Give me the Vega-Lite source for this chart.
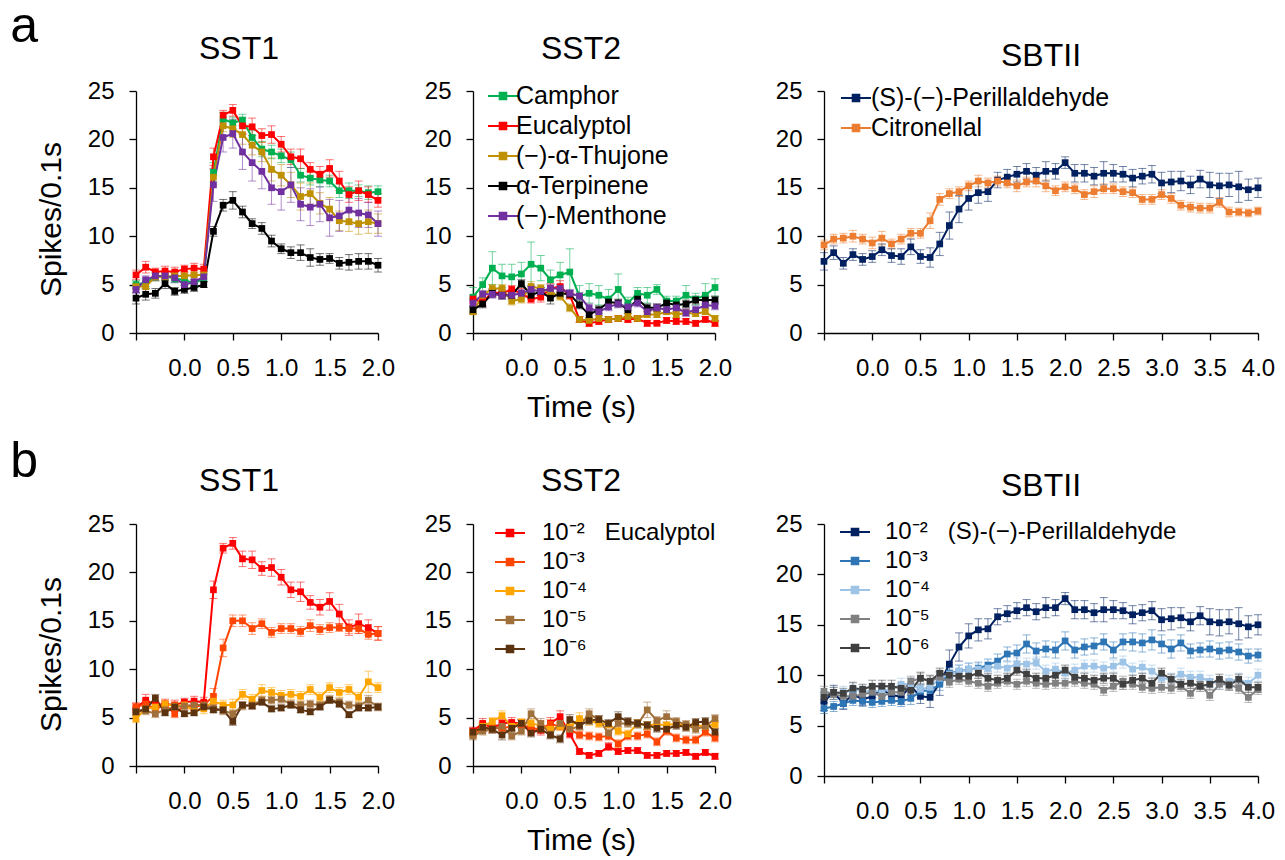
{
"$schema": "https://vega.github.io/schema/vega-lite/v6.json",
"background": "white",
"padding": {"left": 10, "top": 2, "right": 5, "bottom": 5},
"config": {
  "view": {"stroke": null},
  "font": "Liberation Sans",
  "title": {"font": "Liberation Sans", "fontSize": 32, "fontWeight": "normal", "color": "#000"},
  "axis": {"grid": false, "domainColor": "#000", "domainWidth": 1.3, "tickColor": "#000", "tickWidth": 1.3, "tickSize": 7, "labelFont": "Liberation Sans", "labelFontSize": 24, "labelColor": "#000", "labelFlush": false, "labelOverlap": false, "titleFont": "Liberation Sans", "titleFontSize": 30, "titleFontWeight": "normal", "titleColor": "#000"},
  "axisX": {"labelPadding": 16, "titlePadding": 12},
  "axisY": {"labelPadding": 15, "titlePadding": 21},
  "legend": {"labelFont": "Liberation Sans", "labelFontSize": 25, "labelColor": "#000", "symbolSize": 900, "symbolStrokeWidth": 2, "symbolOpacity": 1, "rowPadding": 1, "padding": 0, "labelLimit": 500}
},
"datasets": {
"a1": [
{"s":"Camphor","t":-0.5,"y":5.0,"e":0.4},{"s":"Camphor","t":-0.4,"y":5.2,"e":0.4},{"s":"Camphor","t":-0.3,"y":5.8,"e":0.4},{"s":"Camphor","t":-0.2,"y":5.9,"e":0.5},{"s":"Camphor","t":-0.1,"y":5.6,"e":0.4},{"s":"Camphor","t":0,"y":5.5,"e":0.5},{"s":"Camphor","t":0.1,"y":5.1,"e":0.4},{"s":"Camphor","t":0.2,"y":5.7,"e":0.4},{"s":"Camphor","t":0.3,"y":16.6,"e":1.0},{"s":"Camphor","t":0.4,"y":22.1,"e":0.7},{"s":"Camphor","t":0.5,"y":21.7,"e":0.6},{"s":"Camphor","t":0.6,"y":22.0,"e":0.6},{"s":"Camphor","t":0.7,"y":20.2,"e":0.7},{"s":"Camphor","t":0.8,"y":19.0,"e":0.8},{"s":"Camphor","t":0.9,"y":18.7,"e":0.7},{"s":"Camphor","t":1,"y":18.3,"e":0.7},{"s":"Camphor","t":1.1,"y":17.9,"e":0.8},{"s":"Camphor","t":1.2,"y":16.3,"e":0.7},{"s":"Camphor","t":1.3,"y":16.0,"e":0.7},{"s":"Camphor","t":1.4,"y":15.8,"e":0.7},{"s":"Camphor","t":1.5,"y":15.7,"e":0.6},{"s":"Camphor","t":1.6,"y":14.7,"e":0.7},{"s":"Camphor","t":1.7,"y":14.7,"e":0.8},{"s":"Camphor","t":1.8,"y":14.7,"e":0.6},{"s":"Camphor","t":1.9,"y":14.5,"e":0.7},{"s":"Camphor","t":2,"y":14.6,"e":0.6},
{"s":"Eucalyptol","t":-0.5,"y":6.0,"e":0.5},{"s":"Eucalyptol","t":-0.4,"y":6.8,"e":0.6},{"s":"Eucalyptol","t":-0.3,"y":6.3,"e":0.4},{"s":"Eucalyptol","t":-0.2,"y":6.4,"e":0.5},{"s":"Eucalyptol","t":-0.1,"y":6.3,"e":0.5},{"s":"Eucalyptol","t":0,"y":6.6,"e":0.4},{"s":"Eucalyptol","t":0.1,"y":6.7,"e":0.5},{"s":"Eucalyptol","t":0.2,"y":6.6,"e":0.5},{"s":"Eucalyptol","t":0.3,"y":18.2,"e":0.9},{"s":"Eucalyptol","t":0.4,"y":22.5,"e":0.5},{"s":"Eucalyptol","t":0.5,"y":23.0,"e":0.6},{"s":"Eucalyptol","t":0.6,"y":21.4,"e":0.8},{"s":"Eucalyptol","t":0.7,"y":21.3,"e":0.9},{"s":"Eucalyptol","t":0.8,"y":20.4,"e":0.7},{"s":"Eucalyptol","t":0.9,"y":20.5,"e":0.9},{"s":"Eucalyptol","t":1,"y":19.5,"e":0.8},{"s":"Eucalyptol","t":1.1,"y":18.2,"e":0.8},{"s":"Eucalyptol","t":1.2,"y":18.0,"e":1.0},{"s":"Eucalyptol","t":1.3,"y":16.9,"e":0.7},{"s":"Eucalyptol","t":1.4,"y":16.4,"e":0.8},{"s":"Eucalyptol","t":1.5,"y":17.0,"e":0.9},{"s":"Eucalyptol","t":1.6,"y":15.7,"e":1.0},{"s":"Eucalyptol","t":1.7,"y":14.3,"e":0.8},{"s":"Eucalyptol","t":1.8,"y":14.7,"e":1.0},{"s":"Eucalyptol","t":1.9,"y":14.3,"e":0.8},{"s":"Eucalyptol","t":2,"y":13.7,"e":0.7},
{"s":"(−)-α-Thujone","t":-0.5,"y":4.8,"e":0.3},{"s":"(−)-α-Thujone","t":-0.4,"y":4.8,"e":0.3},{"s":"(−)-α-Thujone","t":-0.3,"y":5.8,"e":0.4},{"s":"(−)-α-Thujone","t":-0.2,"y":5.8,"e":0.4},{"s":"(−)-α-Thujone","t":-0.1,"y":5.9,"e":0.4},{"s":"(−)-α-Thujone","t":0,"y":5.9,"e":0.4},{"s":"(−)-α-Thujone","t":0.1,"y":6.0,"e":0.5},{"s":"(−)-α-Thujone","t":0.2,"y":6.0,"e":0.4},{"s":"(−)-α-Thujone","t":0.3,"y":16.1,"e":0.8},{"s":"(−)-α-Thujone","t":0.4,"y":21.4,"e":0.6},{"s":"(−)-α-Thujone","t":0.5,"y":21.1,"e":0.9},{"s":"(−)-α-Thujone","t":0.6,"y":20.5,"e":1.0},{"s":"(−)-α-Thujone","t":0.7,"y":19.4,"e":1.0},{"s":"(−)-α-Thujone","t":0.8,"y":18.7,"e":1.0},{"s":"(−)-α-Thujone","t":0.9,"y":16.9,"e":1.2},{"s":"(−)-α-Thujone","t":1,"y":16.3,"e":1.1},{"s":"(−)-α-Thujone","t":1.1,"y":15.3,"e":1.3},{"s":"(−)-α-Thujone","t":1.2,"y":14.1,"e":1.4},{"s":"(−)-α-Thujone","t":1.3,"y":14.4,"e":1.1},{"s":"(−)-α-Thujone","t":1.4,"y":13.4,"e":1.1},{"s":"(−)-α-Thujone","t":1.5,"y":12.8,"e":1.2},{"s":"(−)-α-Thujone","t":1.6,"y":11.6,"e":1.0},{"s":"(−)-α-Thujone","t":1.7,"y":11.5,"e":1.0},{"s":"(−)-α-Thujone","t":1.8,"y":11.3,"e":1.1},{"s":"(−)-α-Thujone","t":1.9,"y":11.5,"e":1.2},{"s":"(−)-α-Thujone","t":2,"y":11.3,"e":1.0},
{"s":"α-Terpinene","t":-0.5,"y":3.6,"e":0.6},{"s":"α-Terpinene","t":-0.4,"y":4.0,"e":0.6},{"s":"α-Terpinene","t":-0.3,"y":4.1,"e":0.5},{"s":"α-Terpinene","t":-0.2,"y":5.1,"e":0.5},{"s":"α-Terpinene","t":-0.1,"y":4.3,"e":0.4},{"s":"α-Terpinene","t":0,"y":4.5,"e":0.4},{"s":"α-Terpinene","t":0.1,"y":4.7,"e":0.4},{"s":"α-Terpinene","t":0.2,"y":5.0,"e":0.3},{"s":"α-Terpinene","t":0.3,"y":10.5,"e":0.5},{"s":"α-Terpinene","t":0.4,"y":13.2,"e":0.6},{"s":"α-Terpinene","t":0.5,"y":13.7,"e":0.9},{"s":"α-Terpinene","t":0.6,"y":12.5,"e":0.6},{"s":"α-Terpinene","t":0.7,"y":11.3,"e":0.5},{"s":"α-Terpinene","t":0.8,"y":10.8,"e":0.6},{"s":"α-Terpinene","t":0.9,"y":9.5,"e":0.6},{"s":"α-Terpinene","t":1,"y":8.7,"e":0.5},{"s":"α-Terpinene","t":1.1,"y":8.3,"e":0.6},{"s":"α-Terpinene","t":1.2,"y":8.3,"e":0.8},{"s":"α-Terpinene","t":1.3,"y":7.8,"e":0.9},{"s":"α-Terpinene","t":1.4,"y":7.6,"e":0.6},{"s":"α-Terpinene","t":1.5,"y":7.7,"e":0.5},{"s":"α-Terpinene","t":1.6,"y":7.2,"e":0.6},{"s":"α-Terpinene","t":1.7,"y":7.3,"e":0.8},{"s":"α-Terpinene","t":1.8,"y":7.4,"e":0.8},{"s":"α-Terpinene","t":1.9,"y":7.4,"e":0.8},{"s":"α-Terpinene","t":2,"y":7.0,"e":0.7},
{"s":"(−)-Menthone","t":-0.5,"y":4.5,"e":0.4},{"s":"(−)-Menthone","t":-0.4,"y":5.5,"e":0.4},{"s":"(−)-Menthone","t":-0.3,"y":5.9,"e":0.5},{"s":"(−)-Menthone","t":-0.2,"y":5.9,"e":0.4},{"s":"(−)-Menthone","t":-0.1,"y":5.7,"e":0.5},{"s":"(−)-Menthone","t":0,"y":5.0,"e":0.5},{"s":"(−)-Menthone","t":0.1,"y":5.3,"e":0.5},{"s":"(−)-Menthone","t":0.2,"y":5.8,"e":0.5},{"s":"(−)-Menthone","t":0.3,"y":15.3,"e":1.7},{"s":"(−)-Menthone","t":0.4,"y":20.2,"e":1.5},{"s":"(−)-Menthone","t":0.5,"y":20.6,"e":1.5},{"s":"(−)-Menthone","t":0.6,"y":18.7,"e":1.8},{"s":"(−)-Menthone","t":0.7,"y":17.6,"e":1.9},{"s":"(−)-Menthone","t":0.8,"y":16.7,"e":1.8},{"s":"(−)-Menthone","t":0.9,"y":15.0,"e":1.7},{"s":"(−)-Menthone","t":1,"y":14.6,"e":1.9},{"s":"(−)-Menthone","t":1.1,"y":15.3,"e":1.8},{"s":"(−)-Menthone","t":1.2,"y":13.3,"e":1.7},{"s":"(−)-Menthone","t":1.3,"y":13.0,"e":1.9},{"s":"(−)-Menthone","t":1.4,"y":13.3,"e":1.8},{"s":"(−)-Menthone","t":1.5,"y":11.9,"e":1.9},{"s":"(−)-Menthone","t":1.6,"y":12.1,"e":1.6},{"s":"(−)-Menthone","t":1.7,"y":12.7,"e":1.5},{"s":"(−)-Menthone","t":1.8,"y":12.4,"e":1.5},{"s":"(−)-Menthone","t":1.9,"y":12.2,"e":1.3},{"s":"(−)-Menthone","t":2,"y":11.3,"e":1.3}
],
"a2": [
{"s":"Camphor","t":-0.5,"y":3.7,"e":1.0},{"s":"Camphor","t":-0.4,"y":5.0,"e":0.7},{"s":"Camphor","t":-0.3,"y":6.7,"e":1.7},{"s":"Camphor","t":-0.2,"y":5.9,"e":1.2},{"s":"Camphor","t":-0.1,"y":5.8,"e":1.3},{"s":"Camphor","t":0,"y":6.1,"e":1.2},{"s":"Camphor","t":0.1,"y":7.1,"e":2.3},{"s":"Camphor","t":0.2,"y":6.7,"e":1.3},{"s":"Camphor","t":0.3,"y":5.5,"e":1.0},{"s":"Camphor","t":0.4,"y":6.0,"e":1.3},{"s":"Camphor","t":0.5,"y":6.3,"e":2.4},{"s":"Camphor","t":0.6,"y":3.8,"e":1.1},{"s":"Camphor","t":0.7,"y":4.1,"e":1.0},{"s":"Camphor","t":0.8,"y":3.9,"e":1.0},{"s":"Camphor","t":0.9,"y":3.5,"e":1.0},{"s":"Camphor","t":1,"y":4.5,"e":1.6},{"s":"Camphor","t":1.1,"y":3.1,"e":0.6},{"s":"Camphor","t":1.2,"y":4.1,"e":0.6},{"s":"Camphor","t":1.3,"y":3.9,"e":0.8},{"s":"Camphor","t":1.4,"y":4.5,"e":0.5},{"s":"Camphor","t":1.5,"y":3.3,"e":0.5},{"s":"Camphor","t":1.6,"y":3.3,"e":0.5},{"s":"Camphor","t":1.7,"y":3.9,"e":1.0},{"s":"Camphor","t":1.8,"y":3.5,"e":0.6},{"s":"Camphor","t":1.9,"y":3.9,"e":1.2},{"s":"Camphor","t":2,"y":4.7,"e":0.9},
{"s":"Eucalyptol","t":-0.5,"y":3.5,"e":0.4},{"s":"Eucalyptol","t":-0.4,"y":3.2,"e":0.4},{"s":"Eucalyptol","t":-0.3,"y":4.2,"e":0.4},{"s":"Eucalyptol","t":-0.2,"y":4.1,"e":0.4},{"s":"Eucalyptol","t":-0.1,"y":4.5,"e":0.4},{"s":"Eucalyptol","t":0,"y":4.1,"e":0.5},{"s":"Eucalyptol","t":0.1,"y":3.5,"e":0.4},{"s":"Eucalyptol","t":0.2,"y":3.7,"e":0.5},{"s":"Eucalyptol","t":0.3,"y":4.6,"e":0.5},{"s":"Eucalyptol","t":0.4,"y":4.8,"e":0.6},{"s":"Eucalyptol","t":0.5,"y":3.9,"e":0.4},{"s":"Eucalyptol","t":0.6,"y":1.4,"e":0.3},{"s":"Eucalyptol","t":0.7,"y":1.0,"e":0.3},{"s":"Eucalyptol","t":0.8,"y":1.2,"e":0.3},{"s":"Eucalyptol","t":0.9,"y":1.4,"e":0.3},{"s":"Eucalyptol","t":1,"y":1.5,"e":0.3},{"s":"Eucalyptol","t":1.1,"y":1.4,"e":0.3},{"s":"Eucalyptol","t":1.2,"y":1.5,"e":0.3},{"s":"Eucalyptol","t":1.3,"y":1.0,"e":0.3},{"s":"Eucalyptol","t":1.4,"y":1.0,"e":0.2},{"s":"Eucalyptol","t":1.5,"y":1.3,"e":0.3},{"s":"Eucalyptol","t":1.6,"y":1.2,"e":0.3},{"s":"Eucalyptol","t":1.7,"y":1.2,"e":0.3},{"s":"Eucalyptol","t":1.8,"y":1.0,"e":0.3},{"s":"Eucalyptol","t":1.9,"y":1.4,"e":0.3},{"s":"Eucalyptol","t":2,"y":1.0,"e":0.3},
{"s":"(−)-α-Thujone","t":-0.5,"y":2.2,"e":0.3},{"s":"(−)-α-Thujone","t":-0.4,"y":3.9,"e":0.4},{"s":"(−)-α-Thujone","t":-0.3,"y":4.6,"e":0.4},{"s":"(−)-α-Thujone","t":-0.2,"y":4.6,"e":0.4},{"s":"(−)-α-Thujone","t":-0.1,"y":3.3,"e":0.4},{"s":"(−)-α-Thujone","t":0,"y":3.5,"e":0.4},{"s":"(−)-α-Thujone","t":0.1,"y":4.8,"e":0.5},{"s":"(−)-α-Thujone","t":0.2,"y":4.6,"e":0.4},{"s":"(−)-α-Thujone","t":0.3,"y":4.2,"e":0.4},{"s":"(−)-α-Thujone","t":0.4,"y":3.8,"e":0.4},{"s":"(−)-α-Thujone","t":0.5,"y":2.6,"e":0.4},{"s":"(−)-α-Thujone","t":0.6,"y":1.4,"e":0.3},{"s":"(−)-α-Thujone","t":0.7,"y":1.3,"e":0.3},{"s":"(−)-α-Thujone","t":0.8,"y":1.5,"e":0.3},{"s":"(−)-α-Thujone","t":0.9,"y":1.4,"e":0.3},{"s":"(−)-α-Thujone","t":1,"y":1.5,"e":0.3},{"s":"(−)-α-Thujone","t":1.1,"y":1.7,"e":0.3},{"s":"(−)-α-Thujone","t":1.2,"y":1.5,"e":0.3},{"s":"(−)-α-Thujone","t":1.3,"y":1.9,"e":0.3},{"s":"(−)-α-Thujone","t":1.4,"y":1.9,"e":0.3},{"s":"(−)-α-Thujone","t":1.5,"y":2.2,"e":0.3},{"s":"(−)-α-Thujone","t":1.6,"y":1.9,"e":0.3},{"s":"(−)-α-Thujone","t":1.7,"y":2.1,"e":0.3},{"s":"(−)-α-Thujone","t":1.8,"y":2.0,"e":0.3},{"s":"(−)-α-Thujone","t":1.9,"y":2.2,"e":0.3},{"s":"(−)-α-Thujone","t":2,"y":1.5,"e":0.3},
{"s":"α-Terpinene","t":-0.5,"y":2.4,"e":0.4},{"s":"α-Terpinene","t":-0.4,"y":3.0,"e":0.4},{"s":"α-Terpinene","t":-0.3,"y":4.1,"e":0.4},{"s":"α-Terpinene","t":-0.2,"y":3.9,"e":0.4},{"s":"α-Terpinene","t":-0.1,"y":3.9,"e":0.4},{"s":"α-Terpinene","t":0,"y":5.1,"e":0.4},{"s":"α-Terpinene","t":0.1,"y":3.9,"e":0.4},{"s":"α-Terpinene","t":0.2,"y":4.3,"e":0.4},{"s":"α-Terpinene","t":0.3,"y":3.6,"e":0.6},{"s":"α-Terpinene","t":0.4,"y":4.1,"e":0.4},{"s":"α-Terpinene","t":0.5,"y":4.0,"e":0.4},{"s":"α-Terpinene","t":0.6,"y":2.9,"e":0.4},{"s":"α-Terpinene","t":0.7,"y":1.9,"e":0.4},{"s":"α-Terpinene","t":0.8,"y":2.4,"e":0.4},{"s":"α-Terpinene","t":0.9,"y":3.2,"e":0.4},{"s":"α-Terpinene","t":1,"y":3.1,"e":0.4},{"s":"α-Terpinene","t":1.1,"y":2.4,"e":0.4},{"s":"α-Terpinene","t":1.2,"y":3.5,"e":0.4},{"s":"α-Terpinene","t":1.3,"y":2.6,"e":0.4},{"s":"α-Terpinene","t":1.4,"y":2.6,"e":0.4},{"s":"α-Terpinene","t":1.5,"y":3.1,"e":0.4},{"s":"α-Terpinene","t":1.6,"y":2.9,"e":0.4},{"s":"α-Terpinene","t":1.7,"y":3.0,"e":0.4},{"s":"α-Terpinene","t":1.8,"y":3.4,"e":0.4},{"s":"α-Terpinene","t":1.9,"y":3.4,"e":0.4},{"s":"α-Terpinene","t":2,"y":3.4,"e":0.4},
{"s":"(−)-Menthone","t":-0.5,"y":3.1,"e":0.4},{"s":"(−)-Menthone","t":-0.4,"y":4.0,"e":0.4},{"s":"(−)-Menthone","t":-0.3,"y":4.0,"e":0.4},{"s":"(−)-Menthone","t":-0.2,"y":3.9,"e":0.4},{"s":"(−)-Menthone","t":-0.1,"y":3.9,"e":0.4},{"s":"(−)-Menthone","t":0,"y":4.1,"e":0.4},{"s":"(−)-Menthone","t":0.1,"y":4.5,"e":0.4},{"s":"(−)-Menthone","t":0.2,"y":4.3,"e":0.4},{"s":"(−)-Menthone","t":0.3,"y":4.6,"e":0.4},{"s":"(−)-Menthone","t":0.4,"y":4.6,"e":0.4},{"s":"(−)-Menthone","t":0.5,"y":4.1,"e":0.4},{"s":"(−)-Menthone","t":0.6,"y":3.8,"e":0.4},{"s":"(−)-Menthone","t":0.7,"y":2.6,"e":0.4},{"s":"(−)-Menthone","t":0.8,"y":2.2,"e":0.4},{"s":"(−)-Menthone","t":0.9,"y":2.7,"e":0.4},{"s":"(−)-Menthone","t":1,"y":3.0,"e":0.4},{"s":"(−)-Menthone","t":1.1,"y":2.7,"e":0.4},{"s":"(−)-Menthone","t":1.2,"y":3.1,"e":0.4},{"s":"(−)-Menthone","t":1.3,"y":2.2,"e":0.4},{"s":"(−)-Menthone","t":1.4,"y":2.6,"e":0.4},{"s":"(−)-Menthone","t":1.5,"y":2.4,"e":0.4},{"s":"(−)-Menthone","t":1.6,"y":2.6,"e":0.4},{"s":"(−)-Menthone","t":1.7,"y":2.1,"e":0.4},{"s":"(−)-Menthone","t":1.8,"y":2.4,"e":0.4},{"s":"(−)-Menthone","t":1.9,"y":2.9,"e":0.4},{"s":"(−)-Menthone","t":2,"y":2.8,"e":0.4}
],
"a3": [
{"s":"(S)-(−)-Perillaldehyde","t":-0.5,"y":7.4,"e":0.9},{"s":"(S)-(−)-Perillaldehyde","t":-0.4,"y":8.3,"e":0.7},{"s":"(S)-(−)-Perillaldehyde","t":-0.3,"y":7.2,"e":0.6},{"s":"(S)-(−)-Perillaldehyde","t":-0.2,"y":8.1,"e":0.6},{"s":"(S)-(−)-Perillaldehyde","t":-0.1,"y":7.6,"e":0.6},{"s":"(S)-(−)-Perillaldehyde","t":0,"y":7.9,"e":0.6},{"s":"(S)-(−)-Perillaldehyde","t":0.1,"y":8.6,"e":0.6},{"s":"(S)-(−)-Perillaldehyde","t":0.2,"y":8.0,"e":0.7},{"s":"(S)-(−)-Perillaldehyde","t":0.3,"y":7.9,"e":0.8},{"s":"(S)-(−)-Perillaldehyde","t":0.4,"y":8.9,"e":0.8},{"s":"(S)-(−)-Perillaldehyde","t":0.5,"y":7.9,"e":0.7},{"s":"(S)-(−)-Perillaldehyde","t":0.6,"y":7.8,"e":1.0},{"s":"(S)-(−)-Perillaldehyde","t":0.7,"y":9.2,"e":1.2},{"s":"(S)-(−)-Perillaldehyde","t":0.8,"y":11.1,"e":1.4},{"s":"(S)-(−)-Perillaldehyde","t":0.9,"y":12.8,"e":1.4},{"s":"(S)-(−)-Perillaldehyde","t":1,"y":13.9,"e":1.2},{"s":"(S)-(−)-Perillaldehyde","t":1.1,"y":14.5,"e":1.1},{"s":"(S)-(−)-Perillaldehyde","t":1.2,"y":14.6,"e":1.0},{"s":"(S)-(−)-Perillaldehyde","t":1.3,"y":15.8,"e":0.8},{"s":"(S)-(−)-Perillaldehyde","t":1.4,"y":16.1,"e":0.8},{"s":"(S)-(−)-Perillaldehyde","t":1.5,"y":16.4,"e":0.8},{"s":"(S)-(−)-Perillaldehyde","t":1.6,"y":16.7,"e":0.8},{"s":"(S)-(−)-Perillaldehyde","t":1.7,"y":16.3,"e":0.8},{"s":"(S)-(−)-Perillaldehyde","t":1.8,"y":16.7,"e":1.0},{"s":"(S)-(−)-Perillaldehyde","t":1.9,"y":16.7,"e":0.8},{"s":"(S)-(−)-Perillaldehyde","t":2,"y":17.6,"e":0.6},{"s":"(S)-(−)-Perillaldehyde","t":2.1,"y":16.5,"e":0.9},{"s":"(S)-(−)-Perillaldehyde","t":2.2,"y":16.5,"e":0.9},{"s":"(S)-(−)-Perillaldehyde","t":2.3,"y":16.2,"e":0.9},{"s":"(S)-(−)-Perillaldehyde","t":2.4,"y":16.5,"e":1.2},{"s":"(S)-(−)-Perillaldehyde","t":2.5,"y":16.5,"e":0.9},{"s":"(S)-(−)-Perillaldehyde","t":2.6,"y":16.4,"e":0.8},{"s":"(S)-(−)-Perillaldehyde","t":2.7,"y":16.0,"e":0.9},{"s":"(S)-(−)-Perillaldehyde","t":2.8,"y":16.2,"e":0.8},{"s":"(S)-(−)-Perillaldehyde","t":2.9,"y":16.4,"e":0.9},{"s":"(S)-(−)-Perillaldehyde","t":3,"y":15.5,"e":1.1},{"s":"(S)-(−)-Perillaldehyde","t":3.1,"y":15.6,"e":1.1},{"s":"(S)-(−)-Perillaldehyde","t":3.2,"y":15.7,"e":1.0},{"s":"(S)-(−)-Perillaldehyde","t":3.3,"y":15.3,"e":0.9},{"s":"(S)-(−)-Perillaldehyde","t":3.4,"y":15.9,"e":0.9},{"s":"(S)-(−)-Perillaldehyde","t":3.5,"y":15.3,"e":1.3},{"s":"(S)-(−)-Perillaldehyde","t":3.6,"y":15.2,"e":1.3},{"s":"(S)-(−)-Perillaldehyde","t":3.7,"y":15.3,"e":1.2},{"s":"(S)-(−)-Perillaldehyde","t":3.8,"y":15.1,"e":1.6},{"s":"(S)-(−)-Perillaldehyde","t":3.9,"y":14.8,"e":1.1},{"s":"(S)-(−)-Perillaldehyde","t":4,"y":15.0,"e":1.0},
{"s":"Citronellal","t":-0.5,"y":9.1,"e":0.5},{"s":"Citronellal","t":-0.4,"y":9.7,"e":0.5},{"s":"Citronellal","t":-0.3,"y":9.8,"e":0.5},{"s":"Citronellal","t":-0.2,"y":10.0,"e":0.6},{"s":"Citronellal","t":-0.1,"y":9.7,"e":0.5},{"s":"Citronellal","t":0,"y":9.3,"e":0.6},{"s":"Citronellal","t":0.1,"y":9.8,"e":0.7},{"s":"Citronellal","t":0.2,"y":9.2,"e":0.5},{"s":"Citronellal","t":0.3,"y":9.7,"e":0.5},{"s":"Citronellal","t":0.4,"y":10.3,"e":0.5},{"s":"Citronellal","t":0.5,"y":10.3,"e":0.5},{"s":"Citronellal","t":0.6,"y":11.6,"e":0.8},{"s":"Citronellal","t":0.7,"y":13.8,"e":0.6},{"s":"Citronellal","t":0.8,"y":14.4,"e":0.5},{"s":"Citronellal","t":0.9,"y":14.6,"e":0.5},{"s":"Citronellal","t":1,"y":15.2,"e":0.5},{"s":"Citronellal","t":1.1,"y":15.7,"e":0.6},{"s":"Citronellal","t":1.2,"y":15.5,"e":0.5},{"s":"Citronellal","t":1.3,"y":15.7,"e":0.5},{"s":"Citronellal","t":1.4,"y":15.5,"e":0.5},{"s":"Citronellal","t":1.5,"y":15.2,"e":0.6},{"s":"Citronellal","t":1.6,"y":15.6,"e":0.5},{"s":"Citronellal","t":1.7,"y":15.7,"e":0.6},{"s":"Citronellal","t":1.8,"y":15.2,"e":0.6},{"s":"Citronellal","t":1.9,"y":14.7,"e":0.5},{"s":"Citronellal","t":2,"y":15.1,"e":0.5},{"s":"Citronellal","t":2.1,"y":14.9,"e":0.5},{"s":"Citronellal","t":2.2,"y":14.3,"e":0.5},{"s":"Citronellal","t":2.3,"y":14.6,"e":0.6},{"s":"Citronellal","t":2.4,"y":14.9,"e":0.5},{"s":"Citronellal","t":2.5,"y":14.9,"e":0.5},{"s":"Citronellal","t":2.6,"y":14.6,"e":0.5},{"s":"Citronellal","t":2.7,"y":14.5,"e":0.5},{"s":"Citronellal","t":2.8,"y":13.8,"e":0.5},{"s":"Citronellal","t":2.9,"y":13.8,"e":0.5},{"s":"Citronellal","t":3,"y":14.3,"e":0.5},{"s":"Citronellal","t":3.1,"y":13.9,"e":0.5},{"s":"Citronellal","t":3.2,"y":13.2,"e":0.5},{"s":"Citronellal","t":3.3,"y":13.0,"e":0.5},{"s":"Citronellal","t":3.4,"y":12.9,"e":0.5},{"s":"Citronellal","t":3.5,"y":12.9,"e":0.5},{"s":"Citronellal","t":3.6,"y":13.5,"e":0.5},{"s":"Citronellal","t":3.7,"y":12.5,"e":0.5},{"s":"Citronellal","t":3.8,"y":12.5,"e":0.4},{"s":"Citronellal","t":3.9,"y":12.4,"e":0.4},{"s":"Citronellal","t":4,"y":12.6,"e":0.4}
],
"b1": [
{"s":"10⁻²","t":-0.5,"y":6.0,"e":0.5},{"s":"10⁻²","t":-0.4,"y":6.8,"e":0.6},{"s":"10⁻²","t":-0.3,"y":6.3,"e":0.4},{"s":"10⁻²","t":-0.2,"y":6.4,"e":0.5},{"s":"10⁻²","t":-0.1,"y":6.3,"e":0.5},{"s":"10⁻²","t":0,"y":6.6,"e":0.4},{"s":"10⁻²","t":0.1,"y":6.7,"e":0.5},{"s":"10⁻²","t":0.2,"y":6.6,"e":0.5},{"s":"10⁻²","t":0.3,"y":18.2,"e":0.9},{"s":"10⁻²","t":0.4,"y":22.5,"e":0.5},{"s":"10⁻²","t":0.5,"y":23.0,"e":0.6},{"s":"10⁻²","t":0.6,"y":21.4,"e":0.8},{"s":"10⁻²","t":0.7,"y":21.3,"e":0.9},{"s":"10⁻²","t":0.8,"y":20.4,"e":0.7},{"s":"10⁻²","t":0.9,"y":20.5,"e":0.9},{"s":"10⁻²","t":1,"y":19.5,"e":0.8},{"s":"10⁻²","t":1.1,"y":18.2,"e":0.8},{"s":"10⁻²","t":1.2,"y":18.0,"e":1.0},{"s":"10⁻²","t":1.3,"y":16.9,"e":0.7},{"s":"10⁻²","t":1.4,"y":16.4,"e":0.8},{"s":"10⁻²","t":1.5,"y":17.0,"e":0.9},{"s":"10⁻²","t":1.6,"y":15.7,"e":1.0},{"s":"10⁻²","t":1.7,"y":14.3,"e":0.8},{"s":"10⁻²","t":1.8,"y":14.7,"e":1.0},{"s":"10⁻²","t":1.9,"y":14.3,"e":0.8},{"s":"10⁻²","t":2,"y":13.7,"e":0.7},
{"s":"10⁻³","t":-0.5,"y":6.1,"e":0.4},{"s":"10⁻³","t":-0.4,"y":6.4,"e":0.4},{"s":"10⁻³","t":-0.3,"y":5.9,"e":0.4},{"s":"10⁻³","t":-0.2,"y":6.3,"e":0.4},{"s":"10⁻³","t":-0.1,"y":5.4,"e":0.4},{"s":"10⁻³","t":0,"y":6.3,"e":0.4},{"s":"10⁻³","t":0.1,"y":6.1,"e":0.4},{"s":"10⁻³","t":0.2,"y":6.3,"e":0.4},{"s":"10⁻³","t":0.3,"y":7.2,"e":0.8},{"s":"10⁻³","t":0.4,"y":12.2,"e":0.9},{"s":"10⁻³","t":0.5,"y":15.0,"e":0.6},{"s":"10⁻³","t":0.6,"y":15.0,"e":0.6},{"s":"10⁻³","t":0.7,"y":14.2,"e":0.6},{"s":"10⁻³","t":0.8,"y":14.7,"e":0.5},{"s":"10⁻³","t":0.9,"y":13.8,"e":0.5},{"s":"10⁻³","t":1,"y":14.2,"e":0.5},{"s":"10⁻³","t":1.1,"y":14.2,"e":0.5},{"s":"10⁻³","t":1.2,"y":13.9,"e":0.5},{"s":"10⁻³","t":1.3,"y":14.5,"e":0.6},{"s":"10⁻³","t":1.4,"y":14.1,"e":0.5},{"s":"10⁻³","t":1.5,"y":14.3,"e":0.5},{"s":"10⁻³","t":1.6,"y":14.3,"e":0.4},{"s":"10⁻³","t":1.7,"y":14.2,"e":0.5},{"s":"10⁻³","t":1.8,"y":14.2,"e":0.5},{"s":"10⁻³","t":1.9,"y":13.6,"e":0.5},{"s":"10⁻³","t":2,"y":13.7,"e":0.7},
{"s":"10⁻⁴","t":-0.5,"y":4.9,"e":0.4},{"s":"10⁻⁴","t":-0.4,"y":5.9,"e":0.4},{"s":"10⁻⁴","t":-0.3,"y":6.1,"e":0.4},{"s":"10⁻⁴","t":-0.2,"y":6.4,"e":0.4},{"s":"10⁻⁴","t":-0.1,"y":6.2,"e":0.4},{"s":"10⁻⁴","t":0,"y":6.3,"e":0.4},{"s":"10⁻⁴","t":0.1,"y":5.7,"e":0.4},{"s":"10⁻⁴","t":0.2,"y":5.9,"e":0.5},{"s":"10⁻⁴","t":0.3,"y":6.7,"e":0.6},{"s":"10⁻⁴","t":0.4,"y":6.3,"e":0.5},{"s":"10⁻⁴","t":0.5,"y":6.3,"e":0.6},{"s":"10⁻⁴","t":0.6,"y":7.4,"e":0.5},{"s":"10⁻⁴","t":0.7,"y":6.9,"e":0.5},{"s":"10⁻⁴","t":0.8,"y":7.8,"e":0.6},{"s":"10⁻⁴","t":0.9,"y":7.6,"e":0.5},{"s":"10⁻⁴","t":1,"y":7.3,"e":0.5},{"s":"10⁻⁴","t":1.1,"y":7.4,"e":0.5},{"s":"10⁻⁴","t":1.2,"y":7.2,"e":0.5},{"s":"10⁻⁴","t":1.3,"y":7.9,"e":0.5},{"s":"10⁻⁴","t":1.4,"y":7.1,"e":0.5},{"s":"10⁻⁴","t":1.5,"y":8.1,"e":0.5},{"s":"10⁻⁴","t":1.6,"y":7.6,"e":0.5},{"s":"10⁻⁴","t":1.7,"y":7.9,"e":0.5},{"s":"10⁻⁴","t":1.8,"y":7.1,"e":0.5},{"s":"10⁻⁴","t":1.9,"y":8.7,"e":1.1},{"s":"10⁻⁴","t":2,"y":8.1,"e":0.5},
{"s":"10⁻⁵","t":-0.5,"y":5.6,"e":0.4},{"s":"10⁻⁵","t":-0.4,"y":5.7,"e":0.4},{"s":"10⁻⁵","t":-0.3,"y":5.4,"e":0.4},{"s":"10⁻⁵","t":-0.2,"y":5.8,"e":0.4},{"s":"10⁻⁵","t":-0.1,"y":6.1,"e":0.4},{"s":"10⁻⁵","t":0,"y":6.2,"e":0.4},{"s":"10⁻⁵","t":0.1,"y":6.3,"e":0.4},{"s":"10⁻⁵","t":0.2,"y":6.3,"e":0.4},{"s":"10⁻⁵","t":0.3,"y":6.0,"e":0.4},{"s":"10⁻⁵","t":0.4,"y":5.7,"e":0.4},{"s":"10⁻⁵","t":0.5,"y":5.4,"e":0.4},{"s":"10⁻⁵","t":0.6,"y":6.2,"e":0.4},{"s":"10⁻⁵","t":0.7,"y":6.3,"e":0.4},{"s":"10⁻⁵","t":0.8,"y":6.8,"e":0.4},{"s":"10⁻⁵","t":0.9,"y":6.8,"e":0.4},{"s":"10⁻⁵","t":1,"y":6.9,"e":0.4},{"s":"10⁻⁵","t":1.1,"y":6.4,"e":0.4},{"s":"10⁻⁵","t":1.2,"y":6.3,"e":0.4},{"s":"10⁻⁵","t":1.3,"y":6.4,"e":0.4},{"s":"10⁻⁵","t":1.4,"y":6.3,"e":0.4},{"s":"10⁻⁵","t":1.5,"y":6.9,"e":0.4},{"s":"10⁻⁵","t":1.6,"y":6.6,"e":0.4},{"s":"10⁻⁵","t":1.7,"y":6.3,"e":0.4},{"s":"10⁻⁵","t":1.8,"y":6.2,"e":0.4},{"s":"10⁻⁵","t":1.9,"y":6.8,"e":0.5},{"s":"10⁻⁵","t":2,"y":6.1,"e":0.4},
{"s":"10⁻⁶","t":-0.5,"y":5.6,"e":0.4},{"s":"10⁻⁶","t":-0.4,"y":5.9,"e":0.4},{"s":"10⁻⁶","t":-0.3,"y":7.0,"e":0.4},{"s":"10⁻⁶","t":-0.2,"y":5.5,"e":0.3},{"s":"10⁻⁶","t":-0.1,"y":6.1,"e":0.3},{"s":"10⁻⁶","t":0,"y":5.4,"e":0.3},{"s":"10⁻⁶","t":0.1,"y":5.5,"e":0.3},{"s":"10⁻⁶","t":0.2,"y":6.1,"e":0.3},{"s":"10⁻⁶","t":0.3,"y":5.8,"e":0.3},{"s":"10⁻⁶","t":0.4,"y":5.8,"e":0.3},{"s":"10⁻⁶","t":0.5,"y":4.6,"e":0.4},{"s":"10⁻⁶","t":0.6,"y":6.3,"e":0.3},{"s":"10⁻⁶","t":0.7,"y":6.2,"e":0.3},{"s":"10⁻⁶","t":0.8,"y":6.6,"e":0.3},{"s":"10⁻⁶","t":0.9,"y":5.9,"e":0.3},{"s":"10⁻⁶","t":1,"y":6.0,"e":0.3},{"s":"10⁻⁶","t":1.1,"y":6.3,"e":0.3},{"s":"10⁻⁶","t":1.2,"y":5.8,"e":0.3},{"s":"10⁻⁶","t":1.3,"y":5.6,"e":0.3},{"s":"10⁻⁶","t":1.4,"y":6.1,"e":0.3},{"s":"10⁻⁶","t":1.5,"y":6.8,"e":0.3},{"s":"10⁻⁶","t":1.6,"y":6.4,"e":0.3},{"s":"10⁻⁶","t":1.7,"y":5.3,"e":0.3},{"s":"10⁻⁶","t":1.8,"y":6.0,"e":0.3},{"s":"10⁻⁶","t":1.9,"y":6.0,"e":0.3},{"s":"10⁻⁶","t":2,"y":6.1,"e":0.3}
],
"b2": [
{"s":"10⁻²","t":-0.5,"y":3.6,"e":0.4},{"s":"10⁻²","t":-0.4,"y":4.4,"e":0.5},{"s":"10⁻²","t":-0.3,"y":3.9,"e":0.4},{"s":"10⁻²","t":-0.2,"y":4.4,"e":0.4},{"s":"10⁻²","t":-0.1,"y":4.5,"e":0.5},{"s":"10⁻²","t":0,"y":4.4,"e":0.4},{"s":"10⁻²","t":0.1,"y":3.6,"e":0.4},{"s":"10⁻²","t":0.2,"y":3.7,"e":0.5},{"s":"10⁻²","t":0.3,"y":4.4,"e":0.6},{"s":"10⁻²","t":0.4,"y":5.1,"e":0.6},{"s":"10⁻²","t":0.5,"y":3.3,"e":0.4},{"s":"10⁻²","t":0.6,"y":1.5,"e":0.3},{"s":"10⁻²","t":0.7,"y":1.1,"e":0.3},{"s":"10⁻²","t":0.8,"y":1.3,"e":0.3},{"s":"10⁻²","t":0.9,"y":2.0,"e":0.4},{"s":"10⁻²","t":1,"y":1.5,"e":0.3},{"s":"10⁻²","t":1.1,"y":1.6,"e":0.3},{"s":"10⁻²","t":1.2,"y":1.6,"e":0.3},{"s":"10⁻²","t":1.3,"y":1.1,"e":0.3},{"s":"10⁻²","t":1.4,"y":1.1,"e":0.3},{"s":"10⁻²","t":1.5,"y":1.3,"e":0.3},{"s":"10⁻²","t":1.6,"y":1.3,"e":0.3},{"s":"10⁻²","t":1.7,"y":1.4,"e":0.3},{"s":"10⁻²","t":1.8,"y":1.0,"e":0.3},{"s":"10⁻²","t":1.9,"y":1.4,"e":0.3},{"s":"10⁻²","t":2,"y":1.0,"e":0.3},
{"s":"10⁻³","t":-0.5,"y":3.3,"e":0.4},{"s":"10⁻³","t":-0.4,"y":3.9,"e":0.4},{"s":"10⁻³","t":-0.3,"y":3.9,"e":0.4},{"s":"10⁻³","t":-0.2,"y":3.9,"e":0.4},{"s":"10⁻³","t":-0.1,"y":4.1,"e":0.4},{"s":"10⁻³","t":0,"y":4.3,"e":0.4},{"s":"10⁻³","t":0.1,"y":3.9,"e":0.4},{"s":"10⁻³","t":0.2,"y":3.8,"e":0.4},{"s":"10⁻³","t":0.3,"y":4.3,"e":0.5},{"s":"10⁻³","t":0.4,"y":4.1,"e":0.4},{"s":"10⁻³","t":0.5,"y":3.8,"e":0.4},{"s":"10⁻³","t":0.6,"y":3.2,"e":0.4},{"s":"10⁻³","t":0.7,"y":3.1,"e":0.4},{"s":"10⁻³","t":0.8,"y":3.0,"e":0.4},{"s":"10⁻³","t":0.9,"y":3.1,"e":0.4},{"s":"10⁻³","t":1,"y":2.3,"e":0.4},{"s":"10⁻³","t":1.1,"y":3.1,"e":0.4},{"s":"10⁻³","t":1.2,"y":3.1,"e":0.4},{"s":"10⁻³","t":1.3,"y":3.3,"e":0.4},{"s":"10⁻³","t":1.4,"y":2.5,"e":0.4},{"s":"10⁻³","t":1.5,"y":3.6,"e":0.4},{"s":"10⁻³","t":1.6,"y":2.9,"e":0.4},{"s":"10⁻³","t":1.7,"y":2.7,"e":0.4},{"s":"10⁻³","t":1.8,"y":2.7,"e":0.4},{"s":"10⁻³","t":1.9,"y":3.5,"e":0.4},{"s":"10⁻³","t":2,"y":2.9,"e":0.4},
{"s":"10⁻⁴","t":-0.5,"y":3.4,"e":0.4},{"s":"10⁻⁴","t":-0.4,"y":4.1,"e":0.4},{"s":"10⁻⁴","t":-0.3,"y":4.6,"e":0.4},{"s":"10⁻⁴","t":-0.2,"y":5.2,"e":0.5},{"s":"10⁻⁴","t":-0.1,"y":4.1,"e":0.4},{"s":"10⁻⁴","t":0,"y":4.5,"e":0.4},{"s":"10⁻⁴","t":0.1,"y":4.4,"e":0.4},{"s":"10⁻⁴","t":0.2,"y":4.2,"e":0.4},{"s":"10⁻⁴","t":0.3,"y":3.8,"e":0.4},{"s":"10⁻⁴","t":0.4,"y":4.1,"e":0.4},{"s":"10⁻⁴","t":0.5,"y":4.0,"e":0.4},{"s":"10⁻⁴","t":0.6,"y":4.9,"e":0.6},{"s":"10⁻⁴","t":0.7,"y":4.7,"e":0.5},{"s":"10⁻⁴","t":0.8,"y":4.4,"e":0.4},{"s":"10⁻⁴","t":0.9,"y":4.3,"e":0.4},{"s":"10⁻⁴","t":1,"y":3.6,"e":0.4},{"s":"10⁻⁴","t":1.1,"y":3.3,"e":0.4},{"s":"10⁻⁴","t":1.2,"y":4.4,"e":0.4},{"s":"10⁻⁴","t":1.3,"y":4.2,"e":0.4},{"s":"10⁻⁴","t":1.4,"y":4.3,"e":0.4},{"s":"10⁻⁴","t":1.5,"y":4.2,"e":0.4},{"s":"10⁻⁴","t":1.6,"y":4.4,"e":0.4},{"s":"10⁻⁴","t":1.7,"y":4.1,"e":0.4},{"s":"10⁻⁴","t":1.8,"y":4.2,"e":0.4},{"s":"10⁻⁴","t":1.9,"y":4.1,"e":0.4},{"s":"10⁻⁴","t":2,"y":4.3,"e":0.4},
{"s":"10⁻⁵","t":-0.5,"y":3.1,"e":0.4},{"s":"10⁻⁵","t":-0.4,"y":3.6,"e":0.4},{"s":"10⁻⁵","t":-0.3,"y":3.8,"e":0.4},{"s":"10⁻⁵","t":-0.2,"y":4.1,"e":0.4},{"s":"10⁻⁵","t":-0.1,"y":3.1,"e":0.4},{"s":"10⁻⁵","t":0,"y":3.6,"e":0.4},{"s":"10⁻⁵","t":0.1,"y":5.4,"e":0.5},{"s":"10⁻⁵","t":0.2,"y":4.4,"e":0.5},{"s":"10⁻⁵","t":0.3,"y":3.3,"e":0.4},{"s":"10⁻⁵","t":0.4,"y":4.4,"e":0.5},{"s":"10⁻⁵","t":0.5,"y":3.8,"e":0.4},{"s":"10⁻⁵","t":0.6,"y":4.1,"e":0.4},{"s":"10⁻⁵","t":0.7,"y":5.4,"e":0.5},{"s":"10⁻⁵","t":0.8,"y":4.8,"e":0.4},{"s":"10⁻⁵","t":0.9,"y":3.4,"e":0.4},{"s":"10⁻⁵","t":1,"y":4.4,"e":0.4},{"s":"10⁻⁵","t":1.1,"y":4.4,"e":0.4},{"s":"10⁻⁵","t":1.2,"y":4.3,"e":0.4},{"s":"10⁻⁵","t":1.3,"y":5.8,"e":0.8},{"s":"10⁻⁵","t":1.4,"y":4.7,"e":0.4},{"s":"10⁻⁵","t":1.5,"y":5.1,"e":0.6},{"s":"10⁻⁵","t":1.6,"y":4.6,"e":0.4},{"s":"10⁻⁵","t":1.7,"y":4.3,"e":0.4},{"s":"10⁻⁵","t":1.8,"y":3.8,"e":0.4},{"s":"10⁻⁵","t":1.9,"y":4.1,"e":0.4},{"s":"10⁻⁵","t":2,"y":4.9,"e":0.4},
{"s":"10⁻⁶","t":-0.5,"y":3.5,"e":0.4},{"s":"10⁻⁶","t":-0.4,"y":4.0,"e":0.4},{"s":"10⁻⁶","t":-0.3,"y":3.8,"e":0.4},{"s":"10⁻⁶","t":-0.2,"y":3.2,"e":0.5},{"s":"10⁻⁶","t":-0.1,"y":3.9,"e":0.4},{"s":"10⁻⁶","t":0,"y":4.4,"e":0.4},{"s":"10⁻⁶","t":0.1,"y":3.4,"e":0.4},{"s":"10⁻⁶","t":0.2,"y":3.8,"e":0.4},{"s":"10⁻⁶","t":0.3,"y":3.2,"e":0.4},{"s":"10⁻⁶","t":0.4,"y":2.8,"e":0.4},{"s":"10⁻⁶","t":0.5,"y":4.8,"e":0.5},{"s":"10⁻⁶","t":0.6,"y":4.2,"e":0.4},{"s":"10⁻⁶","t":0.7,"y":4.7,"e":0.4},{"s":"10⁻⁶","t":0.8,"y":4.8,"e":0.4},{"s":"10⁻⁶","t":0.9,"y":4.4,"e":0.4},{"s":"10⁻⁶","t":1,"y":5.1,"e":0.5},{"s":"10⁻⁶","t":1.1,"y":4.6,"e":0.4},{"s":"10⁻⁶","t":1.2,"y":4.4,"e":0.4},{"s":"10⁻⁶","t":1.3,"y":4.2,"e":0.4},{"s":"10⁻⁶","t":1.4,"y":3.9,"e":0.4},{"s":"10⁻⁶","t":1.5,"y":3.8,"e":0.4},{"s":"10⁻⁶","t":1.6,"y":4.2,"e":0.4},{"s":"10⁻⁶","t":1.7,"y":4.0,"e":0.4},{"s":"10⁻⁶","t":1.8,"y":4.5,"e":0.4},{"s":"10⁻⁶","t":1.9,"y":4.6,"e":0.4},{"s":"10⁻⁶","t":2,"y":3.5,"e":0.4}
],
"b3": [
{"s":"10⁻²","t":-0.5,"y":7.4,"e":0.9},{"s":"10⁻²","t":-0.4,"y":8.3,"e":0.7},{"s":"10⁻²","t":-0.3,"y":7.2,"e":0.6},{"s":"10⁻²","t":-0.2,"y":8.1,"e":0.6},{"s":"10⁻²","t":-0.1,"y":7.6,"e":0.6},{"s":"10⁻²","t":0,"y":7.9,"e":0.6},{"s":"10⁻²","t":0.1,"y":8.6,"e":0.6},{"s":"10⁻²","t":0.2,"y":8.0,"e":0.7},{"s":"10⁻²","t":0.3,"y":7.9,"e":0.8},{"s":"10⁻²","t":0.4,"y":8.9,"e":0.8},{"s":"10⁻²","t":0.5,"y":7.9,"e":0.7},{"s":"10⁻²","t":0.6,"y":7.8,"e":1.0},{"s":"10⁻²","t":0.7,"y":9.2,"e":1.2},{"s":"10⁻²","t":0.8,"y":11.1,"e":1.4},{"s":"10⁻²","t":0.9,"y":12.8,"e":1.4},{"s":"10⁻²","t":1,"y":13.9,"e":1.2},{"s":"10⁻²","t":1.1,"y":14.5,"e":1.1},{"s":"10⁻²","t":1.2,"y":14.6,"e":1.0},{"s":"10⁻²","t":1.3,"y":15.8,"e":0.8},{"s":"10⁻²","t":1.4,"y":16.1,"e":0.8},{"s":"10⁻²","t":1.5,"y":16.4,"e":0.8},{"s":"10⁻²","t":1.6,"y":16.7,"e":0.8},{"s":"10⁻²","t":1.7,"y":16.3,"e":0.8},{"s":"10⁻²","t":1.8,"y":16.7,"e":1.0},{"s":"10⁻²","t":1.9,"y":16.7,"e":0.8},{"s":"10⁻²","t":2,"y":17.6,"e":0.6},{"s":"10⁻²","t":2.1,"y":16.5,"e":0.9},{"s":"10⁻²","t":2.2,"y":16.5,"e":0.9},{"s":"10⁻²","t":2.3,"y":16.2,"e":0.9},{"s":"10⁻²","t":2.4,"y":16.5,"e":1.2},{"s":"10⁻²","t":2.5,"y":16.5,"e":0.9},{"s":"10⁻²","t":2.6,"y":16.4,"e":0.8},{"s":"10⁻²","t":2.7,"y":16.0,"e":0.9},{"s":"10⁻²","t":2.8,"y":16.2,"e":0.8},{"s":"10⁻²","t":2.9,"y":16.4,"e":0.9},{"s":"10⁻²","t":3,"y":15.5,"e":1.1},{"s":"10⁻²","t":3.1,"y":15.6,"e":1.1},{"s":"10⁻²","t":3.2,"y":15.7,"e":1.0},{"s":"10⁻²","t":3.3,"y":15.3,"e":0.9},{"s":"10⁻²","t":3.4,"y":15.9,"e":0.9},{"s":"10⁻²","t":3.5,"y":15.3,"e":1.3},{"s":"10⁻²","t":3.6,"y":15.2,"e":1.3},{"s":"10⁻²","t":3.7,"y":15.3,"e":1.2},{"s":"10⁻²","t":3.8,"y":15.1,"e":1.6},{"s":"10⁻²","t":3.9,"y":14.8,"e":1.1},{"s":"10⁻²","t":4,"y":15.0,"e":1.0},
{"s":"10⁻³","t":-0.5,"y":6.7,"e":0.5},{"s":"10⁻³","t":-0.4,"y":6.9,"e":0.5},{"s":"10⁻³","t":-0.3,"y":7.2,"e":0.5},{"s":"10⁻³","t":-0.2,"y":7.5,"e":0.5},{"s":"10⁻³","t":-0.1,"y":7.4,"e":0.5},{"s":"10⁻³","t":0,"y":7.3,"e":0.5},{"s":"10⁻³","t":0.1,"y":7.4,"e":0.5},{"s":"10⁻³","t":0.2,"y":7.5,"e":0.5},{"s":"10⁻³","t":0.3,"y":7.4,"e":0.5},{"s":"10⁻³","t":0.4,"y":7.7,"e":0.6},{"s":"10⁻³","t":0.5,"y":8.4,"e":0.6},{"s":"10⁻³","t":0.6,"y":8.5,"e":0.6},{"s":"10⁻³","t":0.7,"y":9.1,"e":0.6},{"s":"10⁻³","t":0.8,"y":10.2,"e":0.6},{"s":"10⁻³","t":0.9,"y":10.4,"e":0.6},{"s":"10⁻³","t":1,"y":10.6,"e":0.6},{"s":"10⁻³","t":1.1,"y":10.7,"e":0.6},{"s":"10⁻³","t":1.2,"y":11.0,"e":0.6},{"s":"10⁻³","t":1.3,"y":11.4,"e":0.7},{"s":"10⁻³","t":1.4,"y":12.1,"e":0.7},{"s":"10⁻³","t":1.5,"y":12.2,"e":0.8},{"s":"10⁻³","t":1.6,"y":13.1,"e":0.9},{"s":"10⁻³","t":1.7,"y":12.4,"e":0.8},{"s":"10⁻³","t":1.8,"y":12.6,"e":0.8},{"s":"10⁻³","t":1.9,"y":12.5,"e":0.8},{"s":"10⁻³","t":2,"y":13.4,"e":0.9},{"s":"10⁻³","t":2.1,"y":12.5,"e":0.8},{"s":"10⁻³","t":2.2,"y":12.8,"e":0.8},{"s":"10⁻³","t":2.3,"y":12.9,"e":0.8},{"s":"10⁻³","t":2.4,"y":13.3,"e":0.8},{"s":"10⁻³","t":2.5,"y":12.5,"e":0.8},{"s":"10⁻³","t":2.6,"y":13.3,"e":0.8},{"s":"10⁻³","t":2.7,"y":13.3,"e":0.9},{"s":"10⁻³","t":2.8,"y":13.2,"e":0.9},{"s":"10⁻³","t":2.9,"y":13.5,"e":1.0},{"s":"10⁻³","t":3,"y":13.1,"e":0.9},{"s":"10⁻³","t":3.1,"y":12.6,"e":0.9},{"s":"10⁻³","t":3.2,"y":13.2,"e":0.8},{"s":"10⁻³","t":3.3,"y":12.4,"e":0.7},{"s":"10⁻³","t":3.4,"y":12.5,"e":0.7},{"s":"10⁻³","t":3.5,"y":12.6,"e":0.8},{"s":"10⁻³","t":3.6,"y":12.4,"e":0.8},{"s":"10⁻³","t":3.7,"y":12.5,"e":0.8},{"s":"10⁻³","t":3.8,"y":12.3,"e":0.8},{"s":"10⁻³","t":3.9,"y":11.9,"e":0.7},{"s":"10⁻³","t":4,"y":12.0,"e":0.6},
{"s":"10⁻⁴","t":-0.5,"y":8.1,"e":0.6},{"s":"10⁻⁴","t":-0.4,"y":8.2,"e":0.6},{"s":"10⁻⁴","t":-0.3,"y":8.3,"e":0.6},{"s":"10⁻⁴","t":-0.2,"y":8.6,"e":0.6},{"s":"10⁻⁴","t":-0.1,"y":8.4,"e":0.6},{"s":"10⁻⁴","t":0,"y":8.4,"e":0.6},{"s":"10⁻⁴","t":0.1,"y":8.4,"e":0.6},{"s":"10⁻⁴","t":0.2,"y":8.6,"e":0.6},{"s":"10⁻⁴","t":0.3,"y":9.1,"e":0.6},{"s":"10⁻⁴","t":0.4,"y":9.1,"e":0.6},{"s":"10⁻⁴","t":0.5,"y":8.6,"e":0.6},{"s":"10⁻⁴","t":0.6,"y":8.8,"e":0.6},{"s":"10⁻⁴","t":0.7,"y":9.7,"e":0.6},{"s":"10⁻⁴","t":0.8,"y":10.1,"e":0.6},{"s":"10⁻⁴","t":0.9,"y":10.4,"e":0.6},{"s":"10⁻⁴","t":1,"y":10.6,"e":0.6},{"s":"10⁻⁴","t":1.1,"y":10.6,"e":0.6},{"s":"10⁻⁴","t":1.2,"y":10.7,"e":0.6},{"s":"10⁻⁴","t":1.3,"y":10.9,"e":0.6},{"s":"10⁻⁴","t":1.4,"y":10.7,"e":0.6},{"s":"10⁻⁴","t":1.5,"y":11.1,"e":0.6},{"s":"10⁻⁴","t":1.6,"y":11.1,"e":0.6},{"s":"10⁻⁴","t":1.7,"y":11.2,"e":0.6},{"s":"10⁻⁴","t":1.8,"y":10.4,"e":0.6},{"s":"10⁻⁴","t":1.9,"y":10.6,"e":0.6},{"s":"10⁻⁴","t":2,"y":10.2,"e":0.6},{"s":"10⁻⁴","t":2.1,"y":10.5,"e":0.6},{"s":"10⁻⁴","t":2.2,"y":10.9,"e":0.6},{"s":"10⁻⁴","t":2.3,"y":10.9,"e":0.6},{"s":"10⁻⁴","t":2.4,"y":10.7,"e":0.6},{"s":"10⁻⁴","t":2.5,"y":10.9,"e":0.6},{"s":"10⁻⁴","t":2.6,"y":11.3,"e":0.6},{"s":"10⁻⁴","t":2.7,"y":10.6,"e":0.6},{"s":"10⁻⁴","t":2.8,"y":10.8,"e":0.6},{"s":"10⁻⁴","t":2.9,"y":10.4,"e":0.6},{"s":"10⁻⁴","t":3,"y":9.7,"e":0.6},{"s":"10⁻⁴","t":3.1,"y":9.6,"e":0.6},{"s":"10⁻⁴","t":3.2,"y":10.1,"e":0.6},{"s":"10⁻⁴","t":3.3,"y":9.8,"e":0.6},{"s":"10⁻⁴","t":3.4,"y":9.8,"e":0.6},{"s":"10⁻⁴","t":3.5,"y":9.4,"e":0.6},{"s":"10⁻⁴","t":3.6,"y":9.2,"e":0.6},{"s":"10⁻⁴","t":3.7,"y":9.4,"e":0.6},{"s":"10⁻⁴","t":3.8,"y":9.6,"e":0.6},{"s":"10⁻⁴","t":3.9,"y":9.2,"e":0.6},{"s":"10⁻⁴","t":4,"y":10.0,"e":0.6},
{"s":"10⁻⁵","t":-0.5,"y":8.4,"e":0.5},{"s":"10⁻⁵","t":-0.4,"y":8.1,"e":0.5},{"s":"10⁻⁵","t":-0.3,"y":7.9,"e":0.5},{"s":"10⁻⁵","t":-0.2,"y":7.9,"e":0.5},{"s":"10⁻⁵","t":-0.1,"y":8.1,"e":0.5},{"s":"10⁻⁵","t":0,"y":8.3,"e":0.5},{"s":"10⁻⁵","t":0.1,"y":7.9,"e":0.5},{"s":"10⁻⁵","t":0.2,"y":8.3,"e":0.5},{"s":"10⁻⁵","t":0.3,"y":8.3,"e":0.5},{"s":"10⁻⁵","t":0.4,"y":9.4,"e":0.5},{"s":"10⁻⁵","t":0.5,"y":9.7,"e":0.5},{"s":"10⁻⁵","t":0.6,"y":9.4,"e":0.5},{"s":"10⁻⁵","t":0.7,"y":9.8,"e":0.5},{"s":"10⁻⁵","t":0.8,"y":9.3,"e":0.5},{"s":"10⁻⁵","t":0.9,"y":9.6,"e":0.5},{"s":"10⁻⁵","t":1,"y":9.4,"e":0.5},{"s":"10⁻⁵","t":1.1,"y":9.2,"e":0.5},{"s":"10⁻⁵","t":1.2,"y":8.9,"e":0.5},{"s":"10⁻⁵","t":1.3,"y":9.2,"e":0.5},{"s":"10⁻⁵","t":1.4,"y":9.4,"e":0.5},{"s":"10⁻⁵","t":1.5,"y":9.1,"e":0.5},{"s":"10⁻⁵","t":1.6,"y":9.4,"e":0.5},{"s":"10⁻⁵","t":1.7,"y":9.2,"e":0.5},{"s":"10⁻⁵","t":1.8,"y":9.1,"e":0.5},{"s":"10⁻⁵","t":1.9,"y":9.2,"e":0.5},{"s":"10⁻⁵","t":2,"y":9.2,"e":0.5},{"s":"10⁻⁵","t":2.1,"y":9.4,"e":0.5},{"s":"10⁻⁵","t":2.2,"y":9.2,"e":0.5},{"s":"10⁻⁵","t":2.3,"y":9.1,"e":0.5},{"s":"10⁻⁵","t":2.4,"y":8.5,"e":0.5},{"s":"10⁻⁵","t":2.5,"y":8.9,"e":0.5},{"s":"10⁻⁵","t":2.6,"y":9.4,"e":0.5},{"s":"10⁻⁵","t":2.7,"y":9.1,"e":0.5},{"s":"10⁻⁵","t":2.8,"y":8.8,"e":0.5},{"s":"10⁻⁵","t":2.9,"y":8.7,"e":0.5},{"s":"10⁻⁵","t":3,"y":8.8,"e":0.5},{"s":"10⁻⁵","t":3.1,"y":8.7,"e":0.5},{"s":"10⁻⁵","t":3.2,"y":8.9,"e":0.5},{"s":"10⁻⁵","t":3.3,"y":8.2,"e":0.5},{"s":"10⁻⁵","t":3.4,"y":9.1,"e":0.5},{"s":"10⁻⁵","t":3.5,"y":8.0,"e":0.5},{"s":"10⁻⁵","t":3.6,"y":9.1,"e":0.5},{"s":"10⁻⁵","t":3.7,"y":9.1,"e":0.5},{"s":"10⁻⁵","t":3.8,"y":8.7,"e":0.5},{"s":"10⁻⁵","t":3.9,"y":7.8,"e":0.5},{"s":"10⁻⁵","t":4,"y":8.6,"e":0.5},
{"s":"10⁻⁶","t":-0.5,"y":7.8,"e":0.5},{"s":"10⁻⁶","t":-0.4,"y":8.3,"e":0.5},{"s":"10⁻⁶","t":-0.3,"y":8.2,"e":0.5},{"s":"10⁻⁶","t":-0.2,"y":8.7,"e":0.6},{"s":"10⁻⁶","t":-0.1,"y":8.6,"e":0.5},{"s":"10⁻⁶","t":0,"y":8.9,"e":0.6},{"s":"10⁻⁶","t":0.1,"y":8.9,"e":0.6},{"s":"10⁻⁶","t":0.2,"y":8.9,"e":0.6},{"s":"10⁻⁶","t":0.3,"y":8.7,"e":0.5},{"s":"10⁻⁶","t":0.4,"y":8.5,"e":0.5},{"s":"10⁻⁶","t":0.5,"y":9.7,"e":0.6},{"s":"10⁻⁶","t":0.6,"y":9.4,"e":0.6},{"s":"10⁻⁶","t":0.7,"y":10.2,"e":0.5},{"s":"10⁻⁶","t":0.8,"y":10.0,"e":0.5},{"s":"10⁻⁶","t":0.9,"y":9.9,"e":0.5},{"s":"10⁻⁶","t":1,"y":9.9,"e":0.5},{"s":"10⁻⁶","t":1.1,"y":10.2,"e":0.5},{"s":"10⁻⁶","t":1.2,"y":9.7,"e":0.5},{"s":"10⁻⁶","t":1.3,"y":9.5,"e":0.5},{"s":"10⁻⁶","t":1.4,"y":9.7,"e":0.5},{"s":"10⁻⁶","t":1.5,"y":10.5,"e":0.5},{"s":"10⁻⁶","t":1.6,"y":10.1,"e":0.5},{"s":"10⁻⁶","t":1.7,"y":9.7,"e":0.5},{"s":"10⁻⁶","t":1.8,"y":9.7,"e":0.5},{"s":"10⁻⁶","t":1.9,"y":10.0,"e":0.5},{"s":"10⁻⁶","t":2,"y":10.5,"e":0.5},{"s":"10⁻⁶","t":2.1,"y":9.8,"e":0.5},{"s":"10⁻⁶","t":2.2,"y":9.7,"e":0.5},{"s":"10⁻⁶","t":2.3,"y":9.5,"e":0.5},{"s":"10⁻⁶","t":2.4,"y":9.7,"e":0.5},{"s":"10⁻⁶","t":2.5,"y":9.7,"e":0.5},{"s":"10⁻⁶","t":2.6,"y":9.1,"e":0.5},{"s":"10⁻⁶","t":2.7,"y":9.5,"e":0.5},{"s":"10⁻⁶","t":2.8,"y":9.7,"e":0.5},{"s":"10⁻⁶","t":2.9,"y":9.2,"e":0.5},{"s":"10⁻⁶","t":3,"y":10.2,"e":0.5},{"s":"10⁻⁶","t":3.1,"y":9.6,"e":0.5},{"s":"10⁻⁶","t":3.2,"y":9.1,"e":0.5},{"s":"10⁻⁶","t":3.3,"y":9.2,"e":0.5},{"s":"10⁻⁶","t":3.4,"y":8.9,"e":0.5},{"s":"10⁻⁶","t":3.5,"y":9.1,"e":0.5},{"s":"10⁻⁶","t":3.6,"y":9.6,"e":0.5},{"s":"10⁻⁶","t":3.7,"y":9.0,"e":0.5},{"s":"10⁻⁶","t":3.8,"y":9.6,"e":0.5},{"s":"10⁻⁶","t":3.9,"y":8.8,"e":0.5},{"s":"10⁻⁶","t":4,"y":8.8,"e":0.5}
]
},
"spacing": 15,
"resolve": {"scale": {"color": "independent"}, "legend": {"color": "independent"}},
"vconcat": [
{
  "title": {"text": "a", "anchor": "start", "frame": "bounds", "fontSize": 50, "offset": -19, "dx": -26},
  "spacing": 43,
  "resolve": {"scale": {"color": "independent"}, "legend": {"color": "independent"}},
  "hconcat": [
  {
    "spacing": 29,
    "resolve": {"scale": {"color": "independent"}, "legend": {"color": "independent"}},
    "hconcat": [
    {
      "width": 242, "height": 242,
      "title": {"text": "SST1", "offset": 13, "dx": -18},
      "data": {"name": "a1"},
      "encoding": {
        "x": {"field": "t", "type": "quantitative", "scale": {"domain": [-0.5, 2], "nice": false, "zero": false}, "axis": {"values": [-0.5, 0, 0.5, 1, 1.5, 2], "labelExpr": "datum.value < -0.1 ? '' : format(datum.value, '.1f')", "title": null}},
        "y": {"field": "y", "type": "quantitative", "scale": {"domain": [0, 25], "nice": false}, "axis": {"values": [0, 5, 10, 15, 20, 25], "title": "Spikes/0.1s", "titleY": 128}},
        "color": {"field": "s", "type": "nominal", "scale": {"domain": ["Camphor", "Eucalyptol", "(−)-α-Thujone", "α-Terpinene", "(−)-Menthone"], "range": ["#00B050", "#FF0000", "#BF9000", "#000000", "#7030A0"]}, "legend": null}
      },
      "layer": [
        {"mark": {"type": "errorbar", "ticks": {"size": 8}, "thickness": 1, "opacity": 0.55}, "encoding": {"yError": {"field": "e"}}},
        {"mark": {"type": "line", "strokeWidth": 2}},
        {"mark": {"type": "point", "shape": "square", "size": 45, "filled": true, "opacity": 1}}
      ]
    },
    {
      "width": 242, "height": 242,
      "title": {"text": "SST2", "offset": 13, "dx": -13},
      "data": {"name": "a2"},
      "encoding": {
        "x": {"field": "t", "type": "quantitative", "scale": {"domain": [-0.5, 2], "nice": false, "zero": false}, "axis": {"values": [-0.5, 0, 0.5, 1, 1.5, 2], "labelExpr": "datum.value < -0.1 ? '' : format(datum.value, '.1f')", "title": "Time (s)", "titleX": 108}},
        "y": {"field": "y", "type": "quantitative", "scale": {"domain": [0, 25], "nice": false}, "axis": {"values": [0, 5, 10, 15, 20, 25], "title": null}},
        "color": {"field": "s", "type": "nominal", "scale": {"domain": ["Camphor", "Eucalyptol", "(−)-α-Thujone", "α-Terpinene", "(−)-Menthone"], "range": ["#00B050", "#FF0000", "#BF9000", "#000000", "#7030A0"]}, "legend": {"orient": "none", "legendX": 14, "legendY": -11, "title": null, "labelOffset": -3, "rowPadding": 1, "direction": "vertical", "symbolOpacity": 1, "symbolType": "M-1,0H1M-0.22,-0.22H0.22V0.22H-0.22ZM-0.22,-0.11H0.22M-0.22,0H0.22M-0.22,0.11H0.22"}}
      },
      "layer": [
        {"mark": {"type": "errorbar", "ticks": {"size": 8}, "thickness": 1, "opacity": 0.55}, "encoding": {"yError": {"field": "e"}}},
        {"mark": {"type": "line", "strokeWidth": 2}},
        {"mark": {"type": "point", "shape": "square", "size": 45, "filled": true, "opacity": 1}}
      ]
    }
    ]
  },
  {
    "width": 434, "height": 242,
    "title": {"text": "SBTII", "offset": 6},
    "data": {"name": "a3"},
    "encoding": {
      "x": {"field": "t", "type": "quantitative", "scale": {"domain": [-0.5, 4], "nice": false, "zero": false}, "axis": {"values": [-0.5, 0, 0.5, 1, 1.5, 2, 2.5, 3, 3.5, 4], "labelExpr": "datum.value < -0.1 ? '' : format(datum.value, '.1f')", "title": null}},
      "y": {"field": "y", "type": "quantitative", "scale": {"domain": [0, 25], "nice": false}, "axis": {"values": [0, 5, 10, 15, 20, 25], "title": null}},
      "color": {"field": "s", "type": "nominal", "scale": {"domain": ["(S)-(−)-Perillaldehyde", "Citronellal"], "range": ["#002060", "#ED7D31"]}, "legend": {"orient": "none", "legendX": 16, "legendY": -9, "title": null, "labelOffset": -1, "rowPadding": 1, "direction": "vertical", "symbolOpacity": 1, "symbolType": "M-1,0H1M-0.22,-0.22H0.22V0.22H-0.22ZM-0.22,-0.11H0.22M-0.22,0H0.22M-0.22,0.11H0.22"}}
    },
    "layer": [
      {"mark": {"type": "errorbar", "ticks": {"size": 8}, "thickness": 1, "opacity": 0.55}, "encoding": {"yError": {"field": "e"}}},
      {"mark": {"type": "line", "strokeWidth": 2}},
      {"mark": {"type": "point", "shape": "square", "size": 45, "filled": true, "opacity": 1}}
    ]
  }
  ]
},
{
  "title": {"text": "b", "anchor": "start", "frame": "bounds", "fontSize": 50, "offset": -22.5, "dx": -26},
  "spacing": 43,
  "resolve": {"scale": {"color": "independent"}, "legend": {"color": "independent"}},
  "hconcat": [
  {
    "spacing": 29,
    "resolve": {"scale": {"color": "independent"}, "legend": {"color": "independent"}},
    "hconcat": [
    {
      "width": 242, "height": 242,
      "title": {"text": "SST1", "offset": 14.5, "dx": -18},
      "data": {"name": "b1"},
      "encoding": {
        "x": {"field": "t", "type": "quantitative", "scale": {"domain": [-0.5, 2], "nice": false, "zero": false}, "axis": {"values": [-0.5, 0, 0.5, 1, 1.5, 2], "labelExpr": "datum.value < -0.1 ? '' : format(datum.value, '.1f')", "title": null}},
        "y": {"field": "y", "type": "quantitative", "scale": {"domain": [0, 25], "nice": false}, "axis": {"values": [0, 5, 10, 15, 20, 25], "title": "Spikes/0.1s", "titleY": 130}},
        "color": {"field": "s", "type": "nominal", "scale": {"domain": ["10⁻²", "10⁻³", "10⁻⁴", "10⁻⁵", "10⁻⁶"], "range": ["#FF0000", "#FF4500", "#FFA500", "#A0703C", "#5C3310"]}, "legend": null}
      },
      "layer": [
        {"mark": {"type": "errorbar", "ticks": {"size": 8}, "thickness": 1, "opacity": 0.55}, "encoding": {"yError": {"field": "e"}}},
        {"mark": {"type": "line", "strokeWidth": 2}},
        {"mark": {"type": "point", "shape": "square", "size": 45, "filled": true, "opacity": 1}}
      ]
    },
    {
      "width": 242, "height": 242,
      "title": {"text": "SST2", "offset": 14.5, "dx": -13},
      "data": {"name": "b2"},
      "encoding": {
        "x": {"field": "t", "type": "quantitative", "scale": {"domain": [-0.5, 2], "nice": false, "zero": false}, "axis": {"values": [-0.5, 0, 0.5, 1, 1.5, 2], "labelExpr": "datum.value < -0.1 ? '' : format(datum.value, '.1f')", "title": "Time (s)", "titleX": 108}},
        "y": {"field": "y", "type": "quantitative", "scale": {"domain": [0, 25], "nice": false}, "axis": {"values": [0, 5, 10, 15, 20, 25], "title": null}},
        "color": {"field": "s", "type": "nominal", "scale": {"domain": ["10⁻²", "10⁻³", "10⁻⁴", "10⁻⁵", "10⁻⁶"], "range": ["#FF0000", "#FF4500", "#FFA500", "#A0703C", "#5C3310"]}, "legend": {"orient": "none", "legendX": 21, "legendY": -7, "title": null, "labelOffset": 16, "rowPadding": 1, "labelFontSize": 24, "direction": "vertical", "symbolOpacity": 1, "labelExpr": "datum.label == '10⁻²' ? '10⁻²\u00a0\u00a0\u00a0Eucalyptol' : datum.label", "symbolType": "M-1,0H1M-0.22,-0.22H0.22V0.22H-0.22ZM-0.22,-0.11H0.22M-0.22,0H0.22M-0.22,0.11H0.22"}}
      },
      "layer": [
        {"mark": {"type": "errorbar", "ticks": {"size": 8}, "thickness": 1, "opacity": 0.55}, "encoding": {"yError": {"field": "e"}}},
        {"mark": {"type": "line", "strokeWidth": 2}},
        {"mark": {"type": "point", "shape": "square", "size": 45, "filled": true, "opacity": 1}}
      ]
    }
    ]
  },
  {
    "width": 434, "height": 252,
    "title": {"text": "SBTII", "offset": 9},
    "data": {"name": "b3"},
    "encoding": {
      "x": {"field": "t", "type": "quantitative", "scale": {"domain": [-0.5, 4], "nice": false, "zero": false}, "axis": {"values": [-0.5, 0, 0.5, 1, 1.5, 2, 2.5, 3, 3.5, 4], "labelExpr": "datum.value < -0.1 ? '' : format(datum.value, '.1f')", "title": null}},
      "y": {"field": "y", "type": "quantitative", "scale": {"domain": [0, 25], "nice": false}, "axis": {"values": [0, 5, 10, 15, 20, 25], "title": null}},
      "color": {"field": "s", "type": "nominal", "scale": {"domain": ["10⁻²", "10⁻³", "10⁻⁴", "10⁻⁵", "10⁻⁶"], "range": ["#002060", "#2E75B6", "#9DC3E6", "#808080", "#404040"]}, "legend": {"orient": "none", "legendX": 15, "legendY": -8, "title": null, "labelOffset": 14, "rowPadding": 1, "labelFontSize": 24, "direction": "vertical", "symbolOpacity": 1, "labelExpr": "datum.label == '10⁻²' ? '10⁻²\u00a0\u00a0\u00a0(S)-(−)-Perillaldehyde' : datum.label", "symbolType": "M-1,0H1M-0.22,-0.22H0.22V0.22H-0.22ZM-0.22,-0.11H0.22M-0.22,0H0.22M-0.22,0.11H0.22"}}
    },
    "layer": [
      {"mark": {"type": "errorbar", "ticks": {"size": 8}, "thickness": 1, "opacity": 0.55}, "encoding": {"yError": {"field": "e"}}},
      {"mark": {"type": "line", "strokeWidth": 2}},
      {"mark": {"type": "point", "shape": "square", "size": 45, "filled": true, "opacity": 1}}
    ]
  }
  ]
}
]
}
